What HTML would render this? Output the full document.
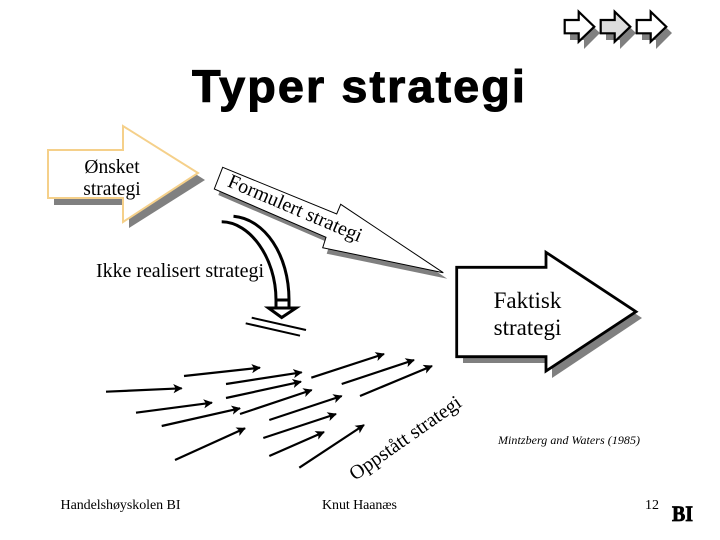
<!DOCTYPE html>
<html>
<head>
<meta charset="utf-8">
<style>
html,body{margin:0;padding:0;background:#fff;width:720px;height:540px;overflow:hidden}
svg{display:block}
text{font-family:"Liberation Serif",serif;fill:#000}
</style>
</head>
<body>
<svg width="720" height="540" viewBox="0 0 720 540" xmlns="http://www.w3.org/2000/svg">
<defs>
<marker id="ah" viewBox="0 0 10 10" refX="9" refY="5" markerWidth="4.2" markerHeight="4.2" orient="auto" markerUnits="strokeWidth"><path d="M0 0L10 5L0 10L2.5 5Z" fill="#000"/></marker>
</defs>

<!-- top nav arrows -->
<g>
<path d="M570 26H584V18L600 33L584 49V40H570Z" fill="#808080"/>
<path d="M606 26H620V18L636 33L620 49V40H606Z" fill="#808080"/>
<path d="M642 26H656V18L672 33L656 49V40H642Z" fill="#808080"/>
<path d="M564.7 20H578.7V11.7L594.3 26.7L578.7 41.7V33.3H564.7Z" fill="#fff" stroke="#000" stroke-width="2.2"/>
<path d="M600.7 20H614.7V11.7L630.3 26.7L614.7 41.7V33.3H600.7Z" fill="#ddd" stroke="#000" stroke-width="2.2"/>
<path d="M636.7 20H650.7V11.7L666.3 26.7L650.7 41.7V33.3H636.7Z" fill="#fff" stroke="#000" stroke-width="2.2"/>
</g>

<text x="192" y="102" font-size="45" font-weight="bold" stroke="#000" stroke-width="1" letter-spacing="2" textLength="335" lengthAdjust="spacingAndGlyphs" style="font-family:'Liberation Sans',sans-serif">Typer strategi</text>

<!-- Ønsket arrow -->
<path d="M54 156H129V132L205 180L129 228V205H54Z" fill="#808080"/>
<path d="M48 150H123V126L198 173L123 222V198H48Z" fill="#fff" stroke="#f5d08a" stroke-width="2"/>
<text x="112" y="173" font-size="19.5" text-anchor="middle">Ønsket</text>
<text x="112" y="195" font-size="19.5" text-anchor="middle">strategi</text>

<!-- Formulert arrow -->
<path d="M222.7 167.3L336.7 214L340.7 204.3L443.3 272.7L322.7 247.7L326 237.3L214.3 189Z" fill="#808080" transform="translate(4 6)"/>
<path d="M222.7 167.3L336.7 214L340.7 204.3L443.3 272.7L322.7 247.7L326 237.3L214.3 189Z" fill="#fff" stroke="#000" stroke-width="1"/>
<text transform="translate(226.5 186) rotate(23)" font-size="20">Formulert strategi</text>

<!-- curved arrow -->
<g fill="none" stroke="#000" stroke-width="3">
<path d="M233.5 216.3C265 219 289 255 289 300V308"/>
<path d="M221.7 221.8C250 222 276 258 276 300V308"/>
<path d="M276 300H289"/>
<path d="M268.5 308H296L281.7 317.5Z"/>
</g>
<g stroke="#000" stroke-width="2">
<line x1="251.7" y1="317.7" x2="306" y2="330"/>
<line x1="245.7" y1="323.3" x2="300" y2="335.7"/>
</g>

<text x="96" y="277" font-size="20" textLength="168" lengthAdjust="spacing">Ikke realisert strategi</text>

<!-- Faktisk arrow -->
<path d="M463 273H552V258L642 318L552 378V363H463Z" fill="#808080"/>
<path d="M456.7 267.3H546V252.3L636 311.7L546 371V356.7H456.7Z" fill="#fff" stroke="#000" stroke-width="2.8"/>
<text x="527.5" y="308" font-size="23" text-anchor="middle">Faktisk</text>
<text x="527.5" y="335" font-size="23" text-anchor="middle">strategi</text>

<!-- emergent arrows -->
<g stroke="#000" stroke-width="2.2" fill="none">
<line x1="106" y1="391.7" x2="181.7" y2="388.3" marker-end="url(#ah)"/>
<line x1="184" y1="376" x2="260" y2="367.7" marker-end="url(#ah)"/>
<line x1="136" y1="412.7" x2="212" y2="402.7" marker-end="url(#ah)"/>
<line x1="161.7" y1="426" x2="240" y2="408.3" marker-end="url(#ah)"/>
<line x1="175" y1="460" x2="245" y2="428.3" marker-end="url(#ah)"/>
<line x1="226" y1="384" x2="301.7" y2="372.3" marker-end="url(#ah)"/>
<line x1="226" y1="398" x2="301" y2="381.7" marker-end="url(#ah)"/>
<line x1="240" y1="414" x2="311.7" y2="390" marker-end="url(#ah)"/>
<line x1="269.3" y1="420" x2="341.7" y2="396" marker-end="url(#ah)"/>
<line x1="263.3" y1="438" x2="336" y2="414" marker-end="url(#ah)"/>
<line x1="269.3" y1="456" x2="324" y2="432" marker-end="url(#ah)"/>
<line x1="299.3" y1="467.7" x2="364" y2="425" marker-end="url(#ah)"/>
<line x1="311.3" y1="377.7" x2="384" y2="354" marker-end="url(#ah)"/>
<line x1="341.7" y1="384" x2="414" y2="360" marker-end="url(#ah)"/>
<line x1="360" y1="396" x2="432" y2="366" marker-end="url(#ah)"/>
</g>

<text transform="translate(355 481) rotate(-35)" font-size="20">Oppstått strategi</text>

<text x="498" y="444" font-size="12" font-style="italic" textLength="142" lengthAdjust="spacing">Mintzberg and Waters (1985)</text>

<text x="60.5" y="509" font-size="14" textLength="120" lengthAdjust="spacing">Handelshøyskolen BI</text>
<text x="322" y="509" font-size="14" textLength="75" lengthAdjust="spacing">Knut Haanæs</text>
<text x="645" y="509" font-size="14">12</text>
<text x="672" y="521" font-size="22" font-weight="bold" stroke="#000" stroke-width="0.8" textLength="21" lengthAdjust="spacingAndGlyphs">BI</text>
</svg>
</body>
</html>
